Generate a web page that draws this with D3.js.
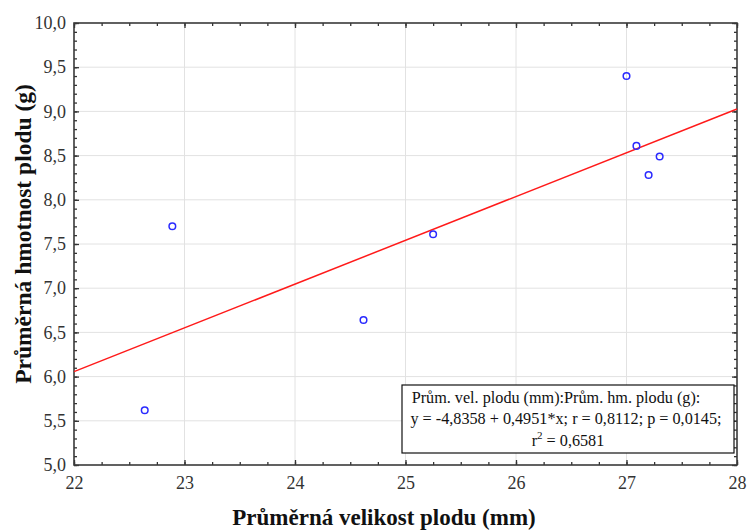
<!DOCTYPE html>
<html lang="cs">
  <head>
    <meta charset="UTF-8" />
    <title>Průměrná velikost vs hmotnost plodu</title>
    <style>
      body { margin: 0; background: #fff; }
      svg text { font-family: "Liberation Serif", "Times New Roman", serif; }
    </style>
  </head>
  <body>
    <div id="chart"></div>

    <script src="https://d3js.org/d3.v7.min.js"></script>

    <script>
      // data
      const velikost = [22.64, 22.89, 24.62, 25.25, 27.00, 27.09, 27.20, 27.30];
      const hmotnost = [5.62, 7.70, 6.64, 7.61, 9.40, 8.61, 8.28, 8.49];
      const xTicks = [22, 23, 24, 25, 26, 27, 28];
      const yTicks = [5.0, 5.5, 6.0, 6.5, 7.0, 7.5, 8.0, 8.5, 9.0, 9.5, 10.0];
      const regrese = { intercept: -4.8358, slope: 0.4951 };
      const popisky = [
        "Prům. vel. plodu (mm):Prům. hm. plodu (g):",
        "y = -4,8358 + 0,4951*x; r = 0,8112; p = 0,0145;"
      ];

      const width = 747;
      const height = 531;
      const margin = { top: 23, right: 10, bottom: 66, left: 74 };

      const cz = d3.formatLocale({ decimal: ",", thousands: " ", grouping: [3], currency: ["", " Kč"] });

      const x = d3.scaleLinear([22, 28], [margin.left, width - margin.right]);
      const y = d3.scaleLinear([5, 10], [height - margin.bottom, margin.top]);

      const svg = d3.select("#chart").append("svg")
          .attr("width", width)
          .attr("height", height)
          .attr("viewBox", [0, 0, width, height]);

      // grid
      svg.append("g")
          .selectAll("line")
          .data(xTicks.slice(1, -1))
          .join("line")
            .attr("x1", d => x(d)).attr("x2", d => x(d))
            .attr("y1", y(5)).attr("y2", y(10))
            .attr("stroke", "#e2e2e2");
      svg.append("g")
          .selectAll("line")
          .data(yTicks.slice(1, -1))
          .join("line")
            .attr("x1", x(22)).attr("x2", x(28))
            .attr("y1", d => y(d)).attr("y2", d => y(d))
            .attr("stroke", "#e2e2e2");

      const xMinor = d3.range(22, 28.001, 0.25);
      const yMinor = d3.range(5, 10.001, 0.1);

      const styleAxis = g => {
        g.select(".domain").remove();
        g.selectAll(".tick line").attr("stroke", "#333").attr("stroke-width", 1.3);
        g.selectAll("text").attr("fill", "#333").attr("font-size", 18);
      };

      // minor ticks on all four sides
      svg.append("g").attr("transform", `translate(0,${y(5)})`)
          .call(d3.axisBottom(x).tickValues(xMinor).tickSize(-3).tickFormat(""))
          .call(styleAxis);
      svg.append("g").attr("transform", `translate(0,${y(10)})`)
          .call(d3.axisTop(x).tickValues(xMinor).tickSize(-3).tickFormat(""))
          .call(styleAxis);
      svg.append("g").attr("transform", `translate(${x(22)},0)`)
          .call(d3.axisLeft(y).tickValues(yMinor).tickSize(-3).tickFormat(""))
          .call(styleAxis);
      svg.append("g").attr("transform", `translate(${x(28)},0)`)
          .call(d3.axisRight(y).tickValues(yMinor).tickSize(-3).tickFormat(""))
          .call(styleAxis);

      // major ticks + labels
      svg.append("g").attr("transform", `translate(0,${y(5)})`)
          .call(d3.axisBottom(x).tickValues(xTicks).tickSize(-5).tickPadding(11).tickFormat(d3.format("d")))
          .call(styleAxis);
      svg.append("g").attr("transform", `translate(${x(22)},0)`)
          .call(d3.axisLeft(y).tickValues(yTicks).tickSize(-5).tickPadding(8).tickFormat(cz.format(".1f")))
          .call(styleAxis);
      svg.append("g").attr("transform", `translate(0,${y(10)})`)
          .call(d3.axisTop(x).tickValues(xTicks).tickSize(-5).tickFormat(""))
          .call(styleAxis);
      svg.append("g").attr("transform", `translate(${x(28)},0)`)
          .call(d3.axisRight(y).tickValues(yTicks).tickSize(-5).tickFormat(""))
          .call(styleAxis);

      // frame
      svg.append("rect")
          .attr("x", x(22)).attr("y", y(10))
          .attr("width", x(28) - x(22)).attr("height", y(5) - y(10))
          .attr("fill", "none")
          .attr("stroke", "#3a3a3a")
          .attr("stroke-width", 1.6);

      // regression line
      const xs = x.domain();
      svg.append("line")
          .attr("x1", x(xs[0])).attr("y1", y(regrese.intercept + regrese.slope * xs[0]))
          .attr("x2", x(xs[1])).attr("y2", y(regrese.intercept + regrese.slope * xs[1]))
          .attr("stroke", "#ff1a1a")
          .attr("stroke-width", 1.5);

      // points
      svg.append("g")
          .selectAll("circle")
          .data(d3.range(velikost.length))
          .join("circle")
            .attr("cx", i => x(velikost[i]))
            .attr("cy", i => y(hmotnost[i]))
            .attr("r", 3.3)
            .attr("fill", "none")
            .attr("stroke", "#2a2aff")
            .attr("stroke-width", 1.5);

      // legend box
      const box = { x: 402, y: 385, w: 332, h: 68 };
      svg.append("rect")
          .attr("x", box.x).attr("y", box.y)
          .attr("width", box.w).attr("height", box.h)
          .attr("fill", "#fff")
          .attr("stroke", "#111")
          .attr("stroke-width", 1.2);
      const cx = box.x + box.w / 2;
      popisky.forEach((t, i) => {
        svg.append("text")
            .attr("x", cx - (i === 0 ? 12 : 2))
            .attr("y", box.y + 18 + i * 21)
            .attr("text-anchor", "middle")
            .attr("font-size", 16.2)
            .attr("fill", "#111")
            .text(t);
      });
      const r2 = svg.append("text")
          .attr("x", cx)
          .attr("y", box.y + 61)
          .attr("text-anchor", "middle")
          .attr("font-size", 16.2)
          .attr("fill", "#111");
      r2.append("tspan").text("r");
      r2.append("tspan").attr("dy", -7).attr("font-size", 11).text("2");
      r2.append("tspan").attr("dy", 7).text(" = 0,6581");

      // axis titles
      svg.append("text")
          .attr("x", 384)
          .attr("y", 525)
          .attr("text-anchor", "middle")
          .attr("font-size", 23)
          .attr("font-weight", "bold")
          .attr("fill", "#111")
          .text("Průměrná velikost plodu (mm)");
      svg.append("text")
          .attr("transform", "translate(31,234) rotate(-90)")
          .attr("text-anchor", "middle")
          .attr("font-size", 23.5)
          .attr("font-weight", "bold")
          .attr("fill", "#111")
          .text("Průměrná hmotnost plodu (g)");
    </script>
  </body>
</html>
